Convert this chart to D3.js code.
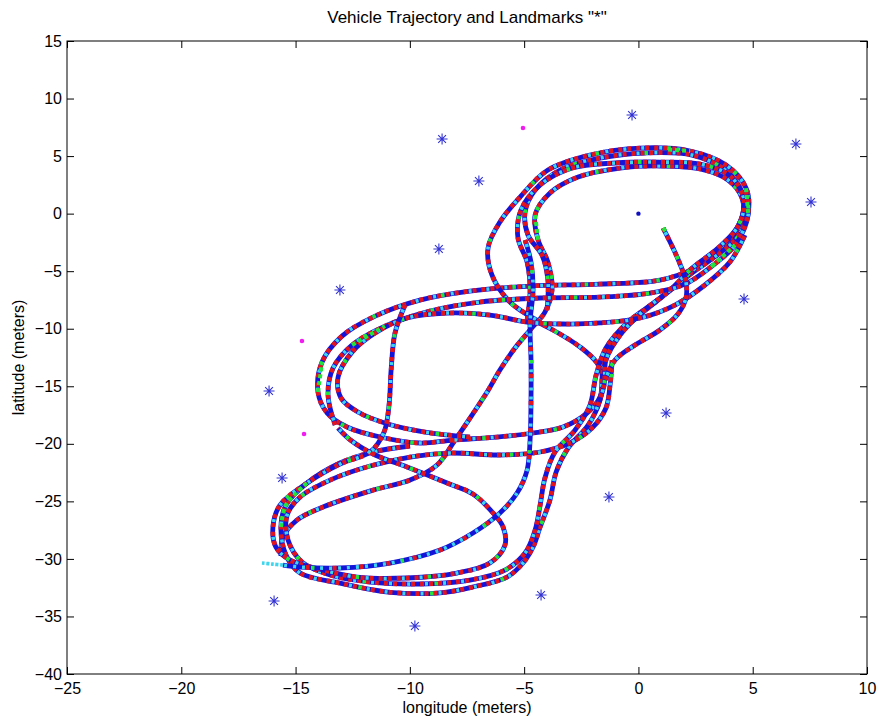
<!DOCTYPE html>
<html>
<head>
<meta charset="utf-8">
<script src="https://cdn.jsdelivr.net/npm/d3@7"></script>
<style>
body { margin: 0; background: #fff; }
svg text { font-family: "Liberation Sans", Arial, sans-serif; }
</style>
</head>
<body>
<svg id="chart"></svg>
<script>
// ---- values (meters) ----
var xTicks = [-25, -20, -15, -10, -5, 0, 5, 10];
var yTicks = [15, 10, 5, 0, -5, -10, -15, -20, -25, -30, -35, -40];

var landmarks = [[-0.28, 8.57], [-8.59, 6.48], [-6.98, 2.84], [6.89, 6.05], [7.55, 1.01],
	[-8.73, -3.07], [-13.06, -6.64], [4.62, -7.42], [-16.16, -15.41], [1.21, -17.32],
	[-15.59, -22.97], [-1.29, -24.62], [-4.26, -33.14], [-15.94, -33.66], [-9.78, -35.83]];

var magentaPoints = [[-5.05, 7.44], [-14.72, -11.07], [-14.63, -19.15]];
var originPoint = [[0, 0]];

// trajectory laps (control points of the driven path)
var startLeg = [[1.08, -1.25], [1.47, -2.82], [1.82, -4.38], [2.08, -5.94], [2.08, -7.33],
	[1.73, -8.72], [0.94, -10.11], [-0.15, -11.42], [-1.02, -12.72], [-1.46, -14.46]];

var lapOuter = [[-4.3, -9.42], [-5.62, -7.68], [-6.41, -5.33], [-6.58, -2.99], [-6.06, -0.73],
	[-5.18, 1.44], [-3.96, 3.79], [-2.12, 5.09], [0.07, 5.7], [2.26, 5.44], [3.83, 4.22],
	[4.71, 2.22], [4.8, 0.05], [4.31, -2.12], [3.26, -3.86], [2.17, -5.42], [1.03, -7.25],
	[-0.1, -9.07], [-1.15, -11.16], [-1.55, -13.59], [-1.68, -16.2], [-2.2, -18.37],
	[-3.08, -20.37], [-3.6, -22.45], [-3.87, -24.88], [-4.3, -27.23], [-4.61, -28.97],
	[-5.05, -30.36], [-5.75, -31.58], [-7.24, -32.44], [-8.68, -32.95], [-10.87, -32.9],
	[-13.06, -32.1], [-14.8, -31.23], [-15.42, -29.66], [-15.64, -27.23], [-15.42, -25.32],
	[-14.5, -23.41], [-13.06, -21.67], [-11.61, -20.71], [-9.99, -20.19]];

var lapSecond = [[-4.0, -8.38], [-3.96, -5.77], [-4.22, -3.6], [-4.83, -1.86], [-4.96, 0.14],
	[-4.52, 2.05], [-3.43, 3.79], [-1.68, 4.83], [0.29, 5.27], [2.35, 5.09], [3.79, 3.79],
	[4.53, 1.88], [4.53, -0.3], [3.92, -2.29], [2.87, -4.03], [1.82, -5.94], [0.73, -7.68],
	[-0.46, -9.42], [-1.42, -11.68], [-1.85, -14.02], [-2.12, -16.63], [-2.77, -18.8],
	[-3.65, -20.71], [-4.09, -22.97], [-4.3, -25.32], [-4.52, -27.49], [-4.96, -29.49],
	[-5.84, -30.97], [-7.37, -31.84], [-9.56, -32.18], [-11.74, -32.01], [-13.49, -31.4],
	[-14.72, -30.27], [-15.33, -28.36], [-15.37, -26.19], [-14.8, -24.62], [-13.49, -23.15],
	[-11.74, -21.93], [-9.99, -21.15], [-8.24, -20.8], [-6.06, -20.97], [-4.3, -20.71],
	[-3.0, -19.93], [-2.03, -18.63], [-1.42, -16.89], [-1.24, -14.89], [-1.15, -12.72]];

var lapThird = [[-4.87, -9.24], [-4.74, -6.64], [-4.87, -4.21], [-5.27, -2.12], [-5.14, 0.31],
	[-4.3, 2.49], [-2.9, 3.96], [-1.02, 4.4], [0.94, 4.48], [2.7, 4.31], [4.01, 3.27],
	[4.62, 1.18], [4.36, -1.08], [3.48, -2.99], [2.35, -4.73], [1.38, -6.64], [0.16, -8.55],
	[-0.8, -10.55], [-1.42, -12.72], [-1.5, -14.89], [-1.85, -17.06]];

var lapMiddle = [[-4.87, -8.98], [-3.74, -10.11], [-2.55, -11.59], [-1.81, -12.98], [-1.55, -14.46],
	[-1.68, -15.94], [-2.25, -17.33], [-3.3, -18.54], [-4.61, -19.06], [-6.19, -19.41],
	[-8.11, -19.67], [-9.56, -19.93], [-11.3, -19.41], [-12.75, -18.54], [-13.62, -17.33],
	[-14.02, -15.5], [-13.84, -12.89], [-12.97, -10.64], [-11.52, -8.9], [-9.56, -7.51],
	[-7.37, -6.73], [-4.74, -6.29], [-1.68, -6.12], [0.94, -5.77], [2.48, -4.73], [3.79, -2.99],
	[4.53, -0.73], [4.53, 1.36], [3.92, 2.92], [2.7, 3.88], [0.94, 4.14], [-0.8, 3.96],
	[-2.64, 3.18], [-3.87, 1.79], [-4.52, -0.12], [-4.39, -2.29], [-3.96, -4.21], [-3.78, -6.64],
	[-4.09, -8.55], [-4.74, -10.11], [-5.4, -11.68], [-6.06, -13.59], [-6.62, -15.5],
	[-7.28, -17.5], [-8.02, -19.67], [-8.81, -21.84], [-9.99, -23.15], [-11.61, -24.02],
	[-13.8, -25.49], [-14.94, -26.62], [-15.55, -28.1], [-15.64, -29.75]];

var crossUpper = [[-13.27, -18.37], [-13.58, -15.76], [-13.36, -13.42], [-12.53, -11.42],
	[-11.09, -9.77], [-9.12, -8.46], [-6.93, -7.68], [-4.3, -7.33], [-1.68, -7.25], [0.51, -6.9],
	[2.04, -6.12], [3.22, -4.55], [4.23, -2.73], [4.8, -0.12], [4.71, 1.88]];

var crossMiddle = [[-7.37, -19.41], [-9.34, -18.98], [-10.96, -18.28], [-12.27, -17.24],
	[-13.01, -16.02], [-13.14, -14.2], [-12.53, -12.03], [-11.52, -10.37], [-10.12, -9.07],
	[-8.37, -8.64], [-6.5, -8.81], [-4.87, -9.42], [-3.3, -9.59], [-1.68, -9.5], [0.07, -9.07],
	[1.6, -7.94], [2.91, -6.2], [4.0, -4.21], [4.66, -1.86]];

var lowerInner = [[-10.21, -7.94], [-10.65, -10.37], [-10.82, -13.59], [-10.91, -16.63],
	[-11.13, -18.98], [-11.74, -20.71], [-13.06, -21.76], [-14.5, -23.41], [-15.68, -25.32],
	[-15.99, -27.23], [-15.86, -28.97], [-15.24, -30.1], [-13.8, -30.96], [-12.31, -31.58],
	[-10.12, -31.66], [-7.94, -31.23], [-6.5, -30.36], [-5.84, -28.8], [-5.92, -27.23],
	[-6.36, -26.01], [-7.24, -24.36], [-8.37, -23.41], [-10.12, -22.02], [-11.52, -20.97],
	[-12.6, -19.67], [-13.14, -18.63]];

var finalLeg = [[-4.96, -2.29], [-4.7, -4.21], [-4.61, -6.64], [-4.74, -9.42], [-4.7, -12.72],
	[-4.7, -16.2], [-4.74, -19.67], [-4.87, -22.28], [-5.31, -24.28], [-6.06, -26.01],
	[-7.24, -27.75], [-8.68, -29.23], [-10.87, -30.36], [-13.06, -30.79], [-14.8, -30.71],
	[-15.55, -30.54]];

var endTail = [[-15.55, -30.54], [-16.0, -30.45], [-16.47, -30.36]];

// stretches where the green markers show up
var greenStretches = [
	[[1.08, -1.25], [1.2, -1.55]],
	[[-15.64, -27.23], [-15.42, -25.32], [-14.5, -23.41]],
	[[-14.02, -15.5], [-13.84, -12.89]],
	[[-12.53, -11.42], [-11.09, -9.77]],
	[[4.71, 2.22], [4.8, 0.05]],
	[[3.22, -4.55], [4.23, -2.73]],
	[[-4.52, -0.12], [-4.39, -2.29]],
	[[1.3, 5.58], [2.26, 5.44]]
];

// which look each lap gets (how many red markers over the blue)
var laps = [
	{pts: lapMiddle, look: "mixed"},
	{pts: lapOuter, look: "mixed"},
	{pts: lapSecond, look: "mixed"},
	{pts: lapThird, look: "mixed"},
	{pts: crossUpper, look: "mixed"},
	{pts: crossMiddle, look: "mixed"},
	{pts: lowerInner, look: "mixed"},
	{pts: startLeg, look: "mixed"},
	{pts: finalLeg, look: "blue"}
];

var looks = {
	mixed: {red: "4 5", cyan: "3 15", cyanOffset: -5, green: "3.5 68.5"},
	blue: {red: "4 23", cyan: "3 6", cyanOffset: -4.5, green: "3 87"}
};

var colBlue = "#1414d8", colRed = "#e3141c", colCyan = "#3cd6ee", colGreen = "#22e63a";

//Width and height
var svgWidth = 878, svgHeight = 718;
var margin = {left: 67, top: 41, right: 11, bottom: 44};
var width = svgWidth - margin.left - margin.right;
var height = svgHeight - margin.top - margin.bottom;

var svg = d3.select("#chart")
	.attr("width", svgWidth)
	.attr("height", svgHeight)
	.style("background", "#fff");

var x = d3.scaleLinear().domain([-25, 10]).range([0, width]);
var y = d3.scaleLinear().domain([-40, 15]).range([height, 0]);

var plot = svg.append("g").attr("transform", "translate(" + margin.left + "," + margin.top + ")");

var line = d3.line()
	.x(function(d) { return x(d[0]); })
	.y(function(d) { return y(d[1]); })
	.curve(d3.curveCatmullRom.alpha(0.5));

function drawLap(pts, look) {
	var st = looks[look];
	var d = line(pts);
	var g = plot.append("g").attr("fill", "none");
	g.append("path").attr("d", d).attr("stroke", colBlue).attr("stroke-width", 4.8);
	g.append("path").attr("d", d).attr("stroke", colRed).attr("stroke-width", 4.6)
		.attr("stroke-dasharray", st.red);
	g.append("path").attr("d", d).attr("stroke", colCyan).attr("stroke-width", 3.6)
		.attr("stroke-dasharray", st.cyan).attr("stroke-dashoffset", st.cyanOffset);
	g.append("path").attr("d", d).attr("stroke", colGreen).attr("stroke-width", 4)
		.attr("stroke-dasharray", st.green).attr("stroke-dashoffset", -31);
}

laps.forEach(function(l) { drawLap(l.pts, l.look); });

// green stretches
plot.selectAll("path.green")
	.data(greenStretches)
	.enter()
	.append("path")
	.attr("class", "green")
	.attr("d", line)
	.attr("fill", "none")
	.attr("stroke", colGreen)
	.attr("stroke-width", 4)
	.attr("stroke-dasharray", "4 3");

// cyan tail at the end of the run
plot.append("path")
	.attr("d", line(endTail))
	.attr("fill", "none")
	.attr("stroke", colCyan)
	.attr("stroke-width", 3.6)
	.attr("stroke-dasharray", "3 1.6");

// magenta points and the origin
plot.selectAll("circle.mag")
	.data(magentaPoints)
	.enter()
	.append("circle")
	.attr("class", "mag")
	.attr("cx", function(d) { return x(d[0]); })
	.attr("cy", function(d) { return y(d[1]); })
	.attr("r", 2.3)
	.attr("fill", "#f01cf0");

plot.selectAll("circle.origin")
	.data(originPoint)
	.enter()
	.append("circle")
	.attr("class", "origin")
	.attr("cx", function(d) { return x(d[0]); })
	.attr("cy", function(d) { return y(d[1]); })
	.attr("r", 2.2)
	.attr("fill", "#1010c0");

// landmarks "*"
var star = "M-5.5,0H5.5M0,-5.5V5.5M-3.9,-3.9L3.9,3.9M-3.9,3.9L3.9,-3.9";
plot.selectAll("path.landmark")
	.data(landmarks)
	.enter()
	.append("path")
	.attr("class", "landmark")
	.attr("d", star)
	.attr("transform", function(d) { return "translate(" + x(d[0]) + "," + y(d[1]) + ")"; })
	.attr("stroke", "#3434d4")
	.attr("stroke-width", 1.1)
	.attr("fill", "none");

// axes, ticks inside like the original
var fontSize = 16;
plot.append("g").attr("transform", "translate(0," + height + ")")
	.call(d3.axisBottom(x).tickValues(xTicks).tickSize(-7).tickSizeOuter(0).tickPadding(9));
plot.append("g")
	.call(d3.axisTop(x).tickValues(xTicks).tickSize(-7).tickSizeOuter(0).tickFormat(""));
plot.append("g")
	.call(d3.axisLeft(y).tickValues(yTicks).tickSize(-7).tickSizeOuter(0).tickPadding(5));
plot.append("g").attr("transform", "translate(" + width + ",0)")
	.call(d3.axisRight(y).tickValues(yTicks).tickSize(-7).tickSizeOuter(0).tickFormat(""));

plot.selectAll(".domain").remove();
plot.selectAll(".tick line").attr("stroke", "#000");
plot.selectAll(".tick text")
	.attr("font-size", fontSize)
	.attr("font-family", "Liberation Sans, Arial, sans-serif")
	.attr("fill", "#000");

plot.append("rect")
	.attr("width", width)
	.attr("height", height)
	.attr("fill", "none")
	.attr("stroke", "#000")
	.attr("stroke-width", 1);

// title and labels
svg.append("text")
	.attr("x", margin.left + width / 2)
	.attr("y", 23)
	.attr("text-anchor", "middle")
	.attr("font-size", 17)
	.text('Vehicle Trajectory and Landmarks "*"');

svg.append("text")
	.attr("x", margin.left + width / 2)
	.attr("y", 713)
	.attr("text-anchor", "middle")
	.attr("font-size", 16)
	.text("longitude (meters)");

svg.append("text")
	.attr("transform", "translate(24," + (margin.top + height / 2) + ") rotate(-90)")
	.attr("text-anchor", "middle")
	.attr("font-size", 16)
	.text("latitude (meters)");
</script>
</body>
</html>
